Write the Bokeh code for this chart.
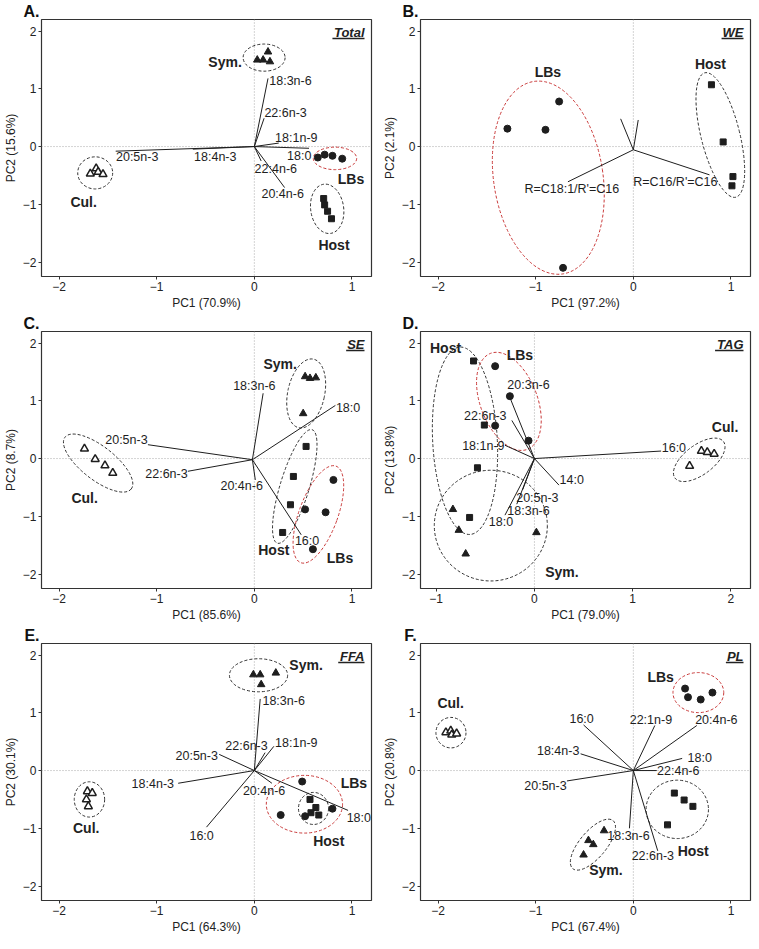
from bokeh.plotting import figure
from bokeh.layouts import column, row
from bokeh.models import Range1d, FixedTicker, Span, Label, ColumnDataSource
from bokeh.core.properties import value
from bokeh.embed import file_html
from bokeh.resources import INLINE

# ---------------- data ----------------
GROUPS = ["Sym.", "LBs", "Host", "Cul."]

# ---- Panel A: Total
A_pt_group = ["Sym."] * 4 + ["LBs"] * 4 + ["Host"] * 4 + ["Cul."] * 4
A_pt_x = [0.03, 0.09, 0.14, 0.16, 0.65, 0.72, 0.80, 0.90, 0.71, 0.72, 0.75, 0.79, -1.68, -1.62, -1.60, -1.55]
A_pt_y = [1.50, 1.50, 1.64, 1.47, -0.19, -0.14, -0.16, -0.21, -0.90, -1.01, -1.12, -1.25, -0.47, -0.38, -0.44, -0.48]
A_var = ["18:3n-6", "22:6n-3", "18:1n-9", "18:0", "22:4n-6", "20:4n-6", "20:5n-3", "18:4n-3"]
A_var_x = [0.14, 0.10, 0.25, 0.56, 0.07, 0.31, -1.42, -0.63]
A_var_y = [1.18, 0.49, 0.06, -0.03, -0.25, -0.71, -0.08, -0.045]
A_lab_x = [0.37, 0.32, 0.43, 0.46, 0.22, 0.29, -1.20, -0.40]
A_lab_y = [1.14, 0.58, 0.14, -0.16, -0.38, -0.83, -0.18, -0.18]
A_origin = (0.0, 0.0)
A_ell_group = ["Sym.", "LBs", "Host", "Cul."]
A_ell_x = [0.10, 0.826, 0.746, -1.63]
A_ell_y = [1.54, -0.205, -1.078, -0.456]
A_ell_w = [0.43, 0.444, 0.338, 0.358]
A_ell_h = [0.47, 0.39, 0.86, 0.556]
A_ell_angle = [0, 0, 8, 0]
A_grp = ["Sym.", "LBs", "Host", "Cul."]
A_grp_x = [-0.30, 0.99, 0.816, -1.748]
A_grp_y = [1.46, -0.567, -1.70, -0.967]

# ---- Panel B: WE
B_pt_group = ["LBs"] * 4 + ["Host"] * 4
B_pt_x = [-1.29, -0.90, -0.76, -0.72, 0.80, 0.92, 1.02, 1.01]
B_pt_y = [0.31, 0.29, 0.78, -2.10, 1.07, 0.08, -0.52, -0.68]
B_var = ["R=C18:1/R'=C16", "R=C16/R'=C16", "", ""]
B_var_x = [-0.67, 0.78, -0.13, 0.05]
B_var_y = [-0.61, -0.49, 0.48, 0.46]
B_lab_x = [-0.63, 0.43, 0, 0]
B_lab_y = [-0.733, -0.617, 0, 0]
B_origin = (0.0, -0.056)
B_ell_group = ["LBs", "Host"]
B_ell_x = [-0.871, 0.891]
B_ell_y = [-0.539, 0.20]
B_ell_w = [1.12, 0.396]
B_ell_h = [3.37, 2.22]
B_ell_angle = [8.5, 14]
B_grp = ["LBs", "Host"]
B_grp_x = [-0.875, 0.79]
B_grp_y = [1.294, 1.433]

# ---- Panel C: SE
C_pt_group = ["Sym."] * 4 + ["Host"] * 4 + ["LBs"] * 4 + ["Cul."] * 4
C_pt_x = [0.52, 0.57, 0.63, 0.50, 0.53, 0.40, 0.37, 0.29, 0.81, 0.52, 0.73, 0.60, -1.74, -1.63, -1.53, -1.45]
C_pt_y = [1.42, 1.39, 1.40, 0.78, 0.21, -0.31, -0.80, -1.28, -0.37, -0.88, -0.93, -1.57, 0.17, -0.01, -0.12, -0.25]
C_var = ["18:3n-6", "18:0", "20:5n-3", "22:6n-3", "20:4n-6", "16:0"]
C_var_x = [0.09, 0.83, -1.09, -0.68, 0.01, 0.48]
C_var_y = [1.13, 0.92, 0.24, -0.22, -0.37, -1.32]
C_lab_x = [0.0, 0.96, -1.31, -0.90, -0.13, 0.54]
C_lab_y = [1.26, 0.88, 0.32, -0.26, -0.48, -1.43]
C_origin = (-0.02, -0.02)
C_ell_group = ["Cul.", "Sym.", "Host", "LBs"]
C_ell_x = [-1.60, 0.531, 0.414, 0.656]
C_ell_y = [-0.078, 1.127, -0.483, -0.967]
C_ell_w = [0.861, 0.378, 0.298, 0.397]
C_ell_h = [0.578, 1.217, 2.056, 1.78]
C_ell_angle = [-38, -12, -17, -20]
C_grp = ["Sym.", "Cul.", "Host", "LBs"]
C_grp_x = [0.265, -1.738, 0.199, 0.877]
C_grp_y = [1.644, -0.689, -1.578, -1.722]

# ---- Panel D: TAG
D_pt_group = ["Host"] * 4 + ["LBs"] * 4 + ["Sym."] * 4 + ["Cul."] * 4
D_pt_x = [-0.62, -0.51, -0.58, -0.66, -0.40, -0.25, -0.40, -0.06, -0.83, -0.77, -0.70, 0.02, 1.70, 1.76, 1.83, 1.58]
D_pt_y = [1.69, 0.58, -0.16, -1.02, 1.60, 1.08, 0.57, 0.31, -0.88, -1.24, -1.65, -1.28, 0.13, 0.11, 0.08, -0.13]
D_var = ["20:3n-6", "22:6n-3", "18:1n-9", "16:0", "14:0", "20:5n-3", "18:3n-6", "18:0"]
D_var_x = [-0.26, -0.23, -0.30, 1.29, 0.25, -0.12, -0.18, -0.30]
D_var_y = [1.10, 0.66, 0.23, 0.13, -0.46, -0.54, -0.79, -0.98]
D_lab_x = [-0.06, -0.50, -0.52, 1.42, 0.38, 0.03, -0.06, -0.34]
D_lab_y = [1.27, 0.74, 0.21, 0.19, -0.37, -0.68, -0.90, -1.10]
D_origin = (0.0, 0.0)
D_ell_group = ["Host", "LBs", "Sym.", "Cul."]
D_ell_x = [-0.707, -0.26, -0.444, 1.678]
D_ell_y = [0.308, 0.99, -1.161, -0.022]
D_ell_w = [0.658, 0.58, 1.151, 0.618]
D_ell_h = [3.25, 1.78, 1.917, 0.511]
D_ell_angle = [3, 21, 0, 37]
D_grp = ["Host", "LBs", "Cul.", "Sym."]
D_grp_x = [-0.905, -0.148, 1.941, 0.28]
D_grp_y = [1.922, 1.794, 0.544, -1.956]

# ---- Panel E: FFA
E_pt_group = ["Sym."] * 4 + ["Cul."] * 4 + ["LBs"] * 4 + ["Host"] * 4
E_pt_x = [-0.01, 0.06, 0.22, 0.07, -1.71, -1.66, -1.72, -1.70, 0.49, 0.27, 0.52, 0.80, 0.57, 0.63, 0.58, 0.66]
E_pt_y = [1.66, 1.66, 1.69, 1.49, -0.36, -0.39, -0.50, -0.62, -0.19, -0.77, -0.79, -0.66, -0.50, -0.64, -0.73, -0.77]
E_var = ["18:3n-6", "22:6n-3", "18:1n-9", "20:5n-3", "18:4n-3", "16:0", "20:4n-6", "18:0"]
E_var_x = [0.06, 0.11, 0.20, -0.36, -0.78, -0.49, 0.18, 0.96]
E_var_y = [1.24, 0.31, 0.42, 0.28, -0.22, -0.98, -0.22, -0.69]
E_lab_x = [0.30, -0.08, 0.43, -0.59, -1.04, -0.54, 0.10, 1.07]
E_lab_y = [1.20, 0.42, 0.47, 0.26, -0.23, -1.14, -0.36, -0.83]
E_origin = (0.0, 0.0)
E_ell_group = ["Sym.", "Cul.", "LBs", "Host"]
E_ell_x = [0.043, -1.689, 0.513, 0.606]
E_ell_y = [1.65, -0.50, -0.583, -0.656]
E_ell_w = [0.596, 0.311, 0.781, 0.308]
E_ell_h = [0.572, 0.611, 1.0, 0.556]
E_ell_angle = [0, 0, 0, 0]
E_grp = ["Sym.", "LBs", "Host", "Cul."]
E_grp_x = [0.53, 1.02, 0.762, -1.722]
E_grp_y = [1.833, -0.222, -1.222, -1.0]

# ---- Panel F: PL
F_pt_group = ["LBs"] * 4 + ["Host"] * 4 + ["Sym."] * 4 + ["Cul."] * 4
F_pt_x = [0.53, 0.56, 0.69, 0.81, 0.42, 0.52, 0.61, 0.35, -0.30, -0.46, -0.41, -0.51, -1.92, -1.87, -1.86, -1.81]
F_pt_y = [1.42, 1.27, 1.23, 1.35, -0.39, -0.51, -0.62, -0.94, -1.04, -1.21, -1.28, -1.46, 0.66, 0.69, 0.62, 0.64]
F_var = ["16:0", "22:1n-9", "20:4n-6", "18:4n-3", "20:5n-3", "18:0", "22:4n-6", "18:3n-6", "22:6n-3"]
F_var_x = [-0.51, 0.22, 0.65, -0.54, -0.68, 0.50, 0.24, -0.04, 0.25]
F_var_y = [0.79, 0.78, 0.78, 0.29, -0.18, 0.21, 0.0, -1.0, -1.39]
F_lab_x = [-0.53, 0.18, 0.85, -0.77, -0.90, 0.68, 0.46, -0.05, 0.20]
F_lab_y = [0.89, 0.87, 0.87, 0.34, -0.27, 0.21, 0.0, -1.14, -1.48]
F_origin = (0.0, 0.0)
F_ell_group = ["LBs", "Host", "Sym.", "Cul."]
F_ell_x = [0.666, 0.45, -0.414, -1.868]
F_ell_y = [1.35, -0.672, -1.283, 0.656]
F_ell_w = [0.52, 0.639, 0.642, 0.308]
F_ell_h = [0.694, 1.011, 0.461, 0.528]
F_ell_angle = [0, 0, 50, 0]
F_grp = ["LBs", "Cul.", "Host", "Sym."]
F_grp_x = [0.28, -1.871, 0.613, -0.281]
F_grp_y = [1.62, 1.167, -1.40, -1.722]

PANEL_LETTERS = ["A.", "B.", "C.", "D.", "E.", "F."]
PANEL_NAMES = ["Total", "WE", "SE", "TAG", "FFA", "PL"]
PC1_LABELS = ["PC1 (70.9%)", "PC1 (97.2%)", "PC1 (85.6%)", "PC1 (79.0%)", "PC1 (64.3%)", "PC1 (67.4%)"]
PC2_LABELS = ["PC2 (15.6%)", "PC2 (2.1%)", "PC2 (8.7%)", "PC2 (13.8%)", "PC2 (30.1%)", "PC2 (20.8%)"]
X_TICKS_STD = [-2, -1, 0, 1]
X_TICKS_D = [-1, 0, 1, 2]
Y_TICKS = [-2, -1, 0, 1, 2]

# ---------------- styling ----------------
FONT = "Liberation Sans"
FW, FH = 330, 257
X_STD = (-2.18, 1.2)
X_D = (-1.16, 2.2)
Y_LIM = (-2.25, 2.2)
INK = "#1e1e1e"
RED = "#c93a3a"
MARK = {"Sym.": ("triangle", INK, 7.5, 1), "LBs": ("circle", INK, 7, 1),
        "Host": ("square", INK, 6, 1), "Cul.": ("triangle", "white", 8, 1.5)}
# approximate bold glyph widths (em) for text extents
BOLD_W = {"T": .611, "o": .611, "t": .333, "a": .556, "l": .278, "W": .944, "E": .667,
          "S": .667, "A": .722, "G": .778, "F": .611, "P": .667, "L": .611,
          "B": .722, "C": .722, "D": .722, ".": .278}
LETTER_SIZE = 16


def panel(idx, col, xr, xticks, pg, px, py, vn, vx, vy, lx, ly, origin,
          eg, ex, ey, ew, eh, ea, gn, gx, gy):
    letter = PANEL_LETTERS[idx]
    p = figure(frame_width=FW, frame_height=FH,
               x_range=Range1d(*xr), y_range=Range1d(*Y_LIM),
               output_backend="svg", toolbar_location=None, tools="",
               min_border_left=30 if col == 0 else 39,
               min_border_right=8 if col == 0 else 2,
               min_border_top=0, min_border_bottom=35,
               background_fill_color="white", border_fill_color="white")
    # panel letter as title, pushed left of the frame
    lw = sum(BOLD_W.get(c, 0.6) for c in letter) * LETTER_SIZE
    p.title.text = letter
    p.title.align = "left"
    p.title.offset = -(lw + 2)
    p.title.standoff = 0
    p.title.text_font = FONT
    p.title.text_font_size = f"{LETTER_SIZE}px"
    p.title.text_font_style = "bold"
    p.title.text_color = "#111111"

    p.grid.visible = False
    p.outline_line_color = "#333333"
    p.outline_line_width = 1.2
    for ax in (p.xaxis[0], p.yaxis[0]):
        ax.axis_line_color = None
        ax.major_tick_line_color = "#333333"
        ax.major_tick_out = 3
        ax.major_tick_in = 0
        ax.minor_tick_line_color = None
        ax.major_label_text_font = FONT
        ax.major_label_text_font_size = "12px"
        ax.major_label_text_color = "#222222"
        ax.axis_label_text_font = FONT
        ax.axis_label_text_font_size = "12px"
        ax.axis_label_text_font_style = "normal"
        ax.axis_label_text_color = "#222222"
        ax.major_label_standoff = 2
        ax.axis_label_standoff = 2
    p.xaxis.ticker = FixedTicker(ticks=xticks)
    p.yaxis.ticker = FixedTicker(ticks=Y_TICKS)
    p.xaxis.axis_label = PC1_LABELS[idx]
    p.yaxis.axis_label = PC2_LABELS[idx]

    for dim in ("width", "height"):
        p.add_layout(Span(location=0, dimension=dim, line_color="#a8a8a8",
                          line_dash="1 2", line_width=1, level="underlay"))

    # group ellipses
    p.ellipse(x=ex, y=ey, width=ew, height=eh, angle=ea, angle_units="deg",
              fill_color=None, line_dash="3 2", line_width=1,
              line_color=[RED if g == "LBs" else "#333333" for g in eg])

    # loading vectors
    p.segment(x0=[origin[0]] * len(vx), y0=[origin[1]] * len(vy), x1=vx, y1=vy,
              line_color=INK, line_width=1)

    # sample scores
    for g in GROUPS:
        xs = [x for x, gg in zip(px, pg) if gg == g]
        ys = [y for y, gg in zip(py, pg) if gg == g]
        if not xs:
            continue
        m, fc, sz, lwd = MARK[g]
        p.scatter(xs, ys, marker=m, size=sz, fill_color=fc, line_color=INK, line_width=lwd)

    # variable labels
    keep = [i for i, n in enumerate(vn) if n]
    src = ColumnDataSource(dict(x=[lx[i] for i in keep], y=[ly[i] for i in keep],
                                t=[vn[i] for i in keep]))
    p.text(x="x", y="y", text="t", source=src, text_font=value(FONT),
           text_font_size="12.5px", text_align="center", text_baseline="middle",
           text_color=INK)

    # group labels
    gsrc = ColumnDataSource(dict(x=gx, y=gy, t=gn))
    p.text(x="x", y="y", text="t", source=gsrc, text_font=value(FONT),
           text_font_size="14px", text_font_style="bold", text_align="center",
           text_baseline="middle", text_color="#222222")

    # panel name (underlined)
    name = PANEL_NAMES[idx]
    p.add_layout(Label(x=xr[1], y=Y_LIM[1], x_offset=-7, y_offset=-5, text=name,
                       text_align="right", text_baseline="top", text_font=FONT,
                       text_font_size="13px", text_font_style="bold italic",
                       text_color="#222222"))
    ppx = FW / (xr[1] - xr[0])
    ppy = FH / (Y_LIM[1] - Y_LIM[0])
    wpx = sum(BOLD_W.get(c, 0.6) for c in name) * 13
    ux1 = xr[1] - 7 / ppx
    ux0 = ux1 - (wpx + 1) / ppx
    uy = Y_LIM[1] - 19 / ppy
    p.segment(x0=[ux0], y0=[uy], x1=[ux1], y1=[uy], line_color="#222222", line_width=1.3)
    return p


pA = panel(0, 0, X_STD, X_TICKS_STD, A_pt_group, A_pt_x, A_pt_y, A_var, A_var_x, A_var_y,
           A_lab_x, A_lab_y, A_origin, A_ell_group, A_ell_x, A_ell_y, A_ell_w, A_ell_h,
           A_ell_angle, A_grp, A_grp_x, A_grp_y)
pB = panel(1, 1, X_STD, X_TICKS_STD, B_pt_group, B_pt_x, B_pt_y, B_var, B_var_x, B_var_y,
           B_lab_x, B_lab_y, B_origin, B_ell_group, B_ell_x, B_ell_y, B_ell_w, B_ell_h,
           B_ell_angle, B_grp, B_grp_x, B_grp_y)
pC = panel(2, 0, X_STD, X_TICKS_STD, C_pt_group, C_pt_x, C_pt_y, C_var, C_var_x, C_var_y,
           C_lab_x, C_lab_y, C_origin, C_ell_group, C_ell_x, C_ell_y, C_ell_w, C_ell_h,
           C_ell_angle, C_grp, C_grp_x, C_grp_y)
pD = panel(3, 1, X_D, X_TICKS_D, D_pt_group, D_pt_x, D_pt_y, D_var, D_var_x, D_var_y,
           D_lab_x, D_lab_y, D_origin, D_ell_group, D_ell_x, D_ell_y, D_ell_w, D_ell_h,
           D_ell_angle, D_grp, D_grp_x, D_grp_y)
pE = panel(4, 0, X_STD, X_TICKS_STD, E_pt_group, E_pt_x, E_pt_y, E_var, E_var_x, E_var_y,
           E_lab_x, E_lab_y, E_origin, E_ell_group, E_ell_x, E_ell_y, E_ell_w, E_ell_h,
           E_ell_angle, E_grp, E_grp_x, E_grp_y)
pF = panel(5, 1, X_STD, X_TICKS_STD, F_pt_group, F_pt_x, F_pt_y, F_var, F_var_x, F_var_y,
           F_lab_x, F_lab_y, F_origin, F_ell_group, F_ell_x, F_ell_y, F_ell_w, F_ell_h,
           F_ell_angle, F_grp, F_grp_x, F_grp_y)

layout = column(row(pA, pB), row(pC, pD), row(pE, pF))
open("out.html", "w").write(file_html(layout, INLINE, title="PCA biplots"))
